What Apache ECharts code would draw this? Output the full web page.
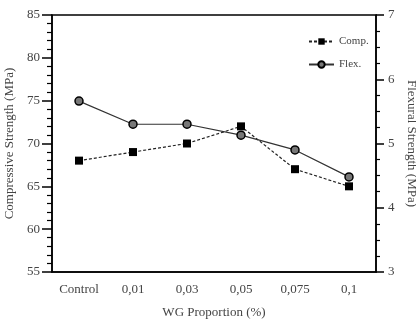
<!DOCTYPE html>
<html>
<head>
<meta charset="utf-8">
<script src="https://cdn.jsdelivr.net/npm/echarts@6/dist/echarts.min.js"></script>
<style>
  html, body { margin: 0; padding: 0; background: #fff; }
  #main { width: 416px; height: 320px; }
</style>
</head>
<body>
<div id="main"></div>
<script>
// data
var categories = ['Control', '0,01', '0,03', '0,05', '0,075', '0,1'];
var compValues = [68, 69, 70, 72, 67, 65];          // MPa, left axis
var flexValues = [5.66, 5.3, 5.3, 5.13, 4.9, 4.48]; // MPa, right axis

var font = 'Liberation Serif';
var grey = '#444';

var chart = echarts.init(document.getElementById('main'));

option = {
    backgroundColor: '#fff',
    textStyle: { fontFamily: font },
    grid: {
        left: 52, right: 40, top: 15, bottom: 48,
        outerBoundsMode: 'none',
        show: true,
        borderColor: '#000',
        borderWidth: 1.5
    },
    legend: {
        orient: 'vertical',
        left: 303,
        top: 31,
        itemWidth: 25,
        itemHeight: 8,
        itemGap: 12,
        textStyle: { fontFamily: font, fontSize: 11, color: grey },
        data: ['Comp.', 'Flex.']
    },
    xAxis: {
        type: 'category',
        data: categories,
        name: 'WG Proportion (%)',
        nameLocation: 'middle',
        nameGap: 34,
        nameTextStyle: { fontFamily: font, fontSize: 13, color: grey },
        axisLine: { lineStyle: { color: '#000', width: 1.5 } },
        axisTick: { alignWithLabel: true, length: 7, lineStyle: { width: 2 } },
        axisLabel: { fontFamily: font, fontSize: 13, color: grey, margin: 11 }
    },
    yAxis: [
        {
            type: 'value',
            min: 55, max: 85, interval: 5,
            name: 'Compressive Strength (MPa)',
            nameLocation: 'middle',
            nameRotate: 90,
            nameGap: 29,
            nameTextStyle: { fontFamily: font, fontSize: 13, color: grey },
            axisLine: { show: true, lineStyle: { color: '#000', width: 1.5 } },
            axisTick: { show: true, length: 10, lineStyle: { width: 1.5 } },
            minorTick: { show: true, splitNumber: 5, length: 5, lineStyle: { color: '#000', width: 1.2 } },
            splitLine: { show: false },
            axisLabel: { fontFamily: font, fontSize: 13, color: grey, margin: 12 }
        },
        {
            type: 'value',
            min: 3, max: 7, interval: 1,
            name: 'Flexural Strength (MPa)',
            nameLocation: 'middle',
            nameRotate: -90,
            nameGap: 29,
            nameTextStyle: { fontFamily: font, fontSize: 13, color: grey },
            axisLine: { show: true, lineStyle: { color: '#000', width: 1.5 } },
            axisTick: { show: true, length: 8, lineStyle: { width: 1.5 } },
            minorTick: { show: true, splitNumber: 4, length: 4, lineStyle: { color: '#000', width: 1.2 } },
            splitLine: { show: false },
            axisLabel: { fontFamily: font, fontSize: 13, color: grey, margin: 12 }
        }
    ],
    series: [
        {
            name: 'Comp.',
            type: 'line',
            yAxisIndex: 0,
            data: compValues,
            symbol: 'rect',
            symbolSize: 8,
            itemStyle: { color: '#000' },
            lineStyle: { color: '#222', width: 1.2, type: [3, 2] }
        },
        {
            name: 'Flex.',
            type: 'line',
            yAxisIndex: 1,
            data: flexValues,
            symbol: 'circle',
            symbolSize: 8,
            itemStyle: { color: '#777', borderColor: '#000', borderWidth: 1.5 },
            lineStyle: { color: '#333', width: 1.2 }
        }
    ]
};

chart.setOption(option);
</script>
</body>
</html>
